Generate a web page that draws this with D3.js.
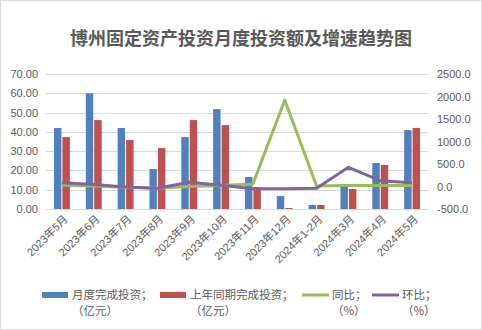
<!DOCTYPE html>
<html><head><meta charset="utf-8">
<script src="https://cdn.jsdelivr.net/npm/d3@7"></script>
<style>body{margin:0;background:#fff}</style>
</head><body><svg id="c" width="482" height="330"></svg>
<script>
const categories = ["2023年5月","2023年6月","2023年7月","2023年8月","2023年9月","2023年10月","2023年11月","2023年12月","2024年1-2月","2024年3月","2024年4月","2024年5月"];
const monthly = [42.0,60.0,42.0,20.7,37.3,51.8,16.6,6.7,2.1,11.9,23.8,40.9];
const lastYear = [37.3,46.1,35.8,31.6,46.1,43.5,11.4,0.5,2.1,10.4,22.8,42.0];
const yoy = [27,12,-15,-40,0,20,55,1920,10,20,20,20];
const mom = [85,45,-10,-40,94,27,-50,-50,-40,426,130,85];
const leftTicks = [0,10,20,30,40,50,60,70];
const rightTicks = [-500,0,500,1000,1500,2000,2500];
const title = "博州固定资产投资月度投资额及增速趋势图";

const svg = d3.select("#c");
const W=482,H=330;
svg.append("rect").attr("x",0.5).attr("y",0.5).attr("width",W-1).attr("height",H-1)
  .attr("fill","#fff").attr("stroke","#d9d9d9");

svg.append("text").attr("x",241).attr("y",45).attr("text-anchor","middle")
  .attr("font-family","'Noto Sans CJK SC'").attr("font-weight","bold").attr("font-size",18)
  .attr("fill","#595959").text(title);

const x0=46,x1=428,yTop=74,yBot=209;
const x = d3.scaleBand().domain(categories).range([x0,x1]).paddingInner(0.5).paddingOuter(0.25);
const xs = d3.scaleBand().domain([0,1]).range([0,x.bandwidth()]).paddingInner(0.12);
const yL = d3.scaleLinear().domain([0,70]).range([yBot,yTop]);
const yR = d3.scaleLinear().domain([-500,2500]).range([yBot,yTop]);

const font="'Liberation Sans','Noto Sans CJK SC'";
// grid
svg.append("g").selectAll("line").data(leftTicks).join("line")
  .attr("x1",x0).attr("x2",x1).attr("y1",d=>Math.round(yL(d))+0.5).attr("y2",d=>Math.round(yL(d))+0.5)
  .attr("stroke","#d9d9d9").attr("stroke-width",1);

// left axis
const gl = svg.append("g").attr("transform",`translate(${x0},0)`)
  .call(d3.axisLeft(yL).tickValues(leftTicks).tickFormat(d=>d.toFixed(2)).tickSize(0).tickPadding(8));
gl.select(".domain").remove();
gl.selectAll("text").attr("font-family",font).attr("font-size",11).attr("fill","#595959");

const gr = svg.append("g").attr("transform",`translate(${x1},0)`)
  .call(d3.axisRight(yR).tickValues(rightTicks).tickFormat(d=>d.toFixed(1)).tickSize(0).tickPadding(9));
gr.select(".domain").remove();
gr.selectAll("text").attr("font-family",font).attr("font-size",11).attr("fill","#595959");

// bars
const colors=["#4F81BD","#C0504D"];
[monthly,lastYear].forEach((arr,si)=>{
  svg.append("g").selectAll("rect").data(arr).join("rect")
    .attr("x",(d,i)=>x(categories[i])+xs(si)).attr("width",xs.bandwidth())
    .attr("y",d=>yL(d)).attr("height",d=>yBot-yL(d)).attr("fill",colors[si]);
});

// lines
const cx = i=>x(categories[i])+x.bandwidth()/2;
const line = d3.line().x((d,i)=>cx(i)).y(d=>yR(d));
svg.append("path").datum(yoy).attr("d",line).attr("fill","none").attr("stroke","#9BBB59").attr("stroke-width",3).attr("stroke-linejoin","round");
svg.append("path").datum(mom).attr("d",line).attr("fill","none").attr("stroke","#8064A2").attr("stroke-width",3).attr("stroke-linejoin","round");

// x labels
svg.append("g").selectAll("text").data(categories).join("text")
  .attr("transform",(d,i)=>`translate(${cx(i)+4},${217}) rotate(-45)`)
  .attr("text-anchor","end").attr("dy","0.35em")
  .attr("font-family",font).attr("font-size",11).attr("fill","#595959").text(d=>d);

// legend
const leg=[
  {t1:"月度完成投资；",t2:"（亿元）",c:"#4F81BD",type:"rect",x:42},
  {t1:"上年同期完成投资；",t2:"（亿元）",c:"#C0504D",type:"rect",x:160},
  {t1:"同比；",t2:"（%）",c:"#9BBB59",type:"line",x:302},
  {t1:"环比；",t2:"（%）",c:"#8064A2",type:"line",x:372}
];
const lg = svg.append("g");
leg.forEach(l=>{
  if(l.type==="rect") lg.append("rect").attr("x",l.x).attr("y",292).attr("width",26).attr("height",6).attr("fill",l.c);
  else lg.append("line").attr("x1",l.x).attr("x2",l.x+27).attr("y1",295).attr("y2",295).attr("stroke",l.c).attr("stroke-width",3);
  lg.append("text").attr("x",l.x+30).attr("y",299).attr("font-family","'Noto Sans CJK SC'").attr("font-size",11.5).attr("fill","#595959").text(l.t1);
  lg.append("text").attr("x",l.x+30).attr("y",315).attr("font-family","'Noto Sans CJK SC'").attr("font-size",11.5).attr("fill","#595959").text(l.t2);
});
</script></body></html>
